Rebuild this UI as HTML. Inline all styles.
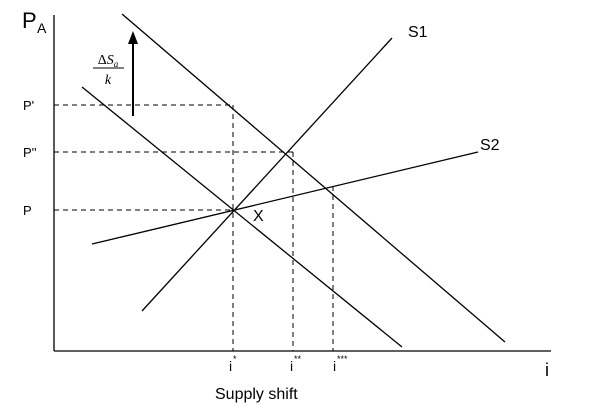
<!DOCTYPE html>
<html><head><style>
body{margin:0;background:#fff;}
svg{display:block;font-family:"Liberation Sans",sans-serif;}
</style></head><body>
<svg width="600" height="410" viewBox="0 0 600 410">
<g stroke="#000" stroke-width="1.3" fill="none">
<line x1="54" y1="15" x2="54" y2="351"/>
<line x1="54" y1="351" x2="551" y2="351"/>
<line x1="82" y1="87" x2="402" y2="347"/>
<line x1="122" y1="14" x2="505" y2="342"/>
<line x1="142" y1="311" x2="392" y2="38"/>
<line x1="92" y1="244" x2="478" y2="152"/>
<line x1="133" y1="116" x2="133" y2="42" stroke-width="2"/>
</g>
<polygon points="128,44 138,44 133,31" fill="#000"/>
<g stroke="#000" stroke-width="1" stroke-dasharray="5,4" fill="none">
<line x1="54" y1="105" x2="233" y2="105"/>
<line x1="233" y1="105" x2="233" y2="351"/>
<line x1="54" y1="152" x2="293" y2="152"/>
<line x1="293" y1="152" x2="293" y2="351"/>
<line x1="54" y1="210" x2="233" y2="210"/>
<line x1="333" y1="186" x2="333" y2="351"/>
</g>
<text x="22" y="28" font-size="22">P</text><text x="37" y="33" font-size="14">A</text>
<text x="23" y="110" font-size="13">P'</text>
<text x="23" y="157" font-size="13">P''</text>
<text x="23" y="215" font-size="13">P</text>
<text x="408" y="37" font-size="16">S1</text>
<text x="480" y="150" font-size="16">S2</text>
<text x="253" y="221" font-size="16">X</text>
<text x="229" y="371" font-size="14">i</text><text x="233" y="362" font-size="9">*</text>
<text x="290" y="371" font-size="14">i</text><text x="294" y="362" font-size="9">**</text>
<text x="333" y="371" font-size="14">i</text><text x="337" y="362" font-size="9">***</text>
<text x="545" y="376" font-size="18">i</text>
<text x="215" y="399" font-size="16">Supply shift</text>
<text x="108" y="64" font-size="14" font-family="Liberation Serif" font-style="italic" text-anchor="middle"><tspan font-style="normal">Δ</tspan>S<tspan font-size="9" dy="3">a</tspan></text>
<line x1="93" y1="68" x2="124" y2="68" stroke="#000" stroke-width="1"/>
<text x="108" y="84" font-size="14" font-family="Liberation Serif" font-style="italic" text-anchor="middle">k</text>
</svg>
</body></html>
